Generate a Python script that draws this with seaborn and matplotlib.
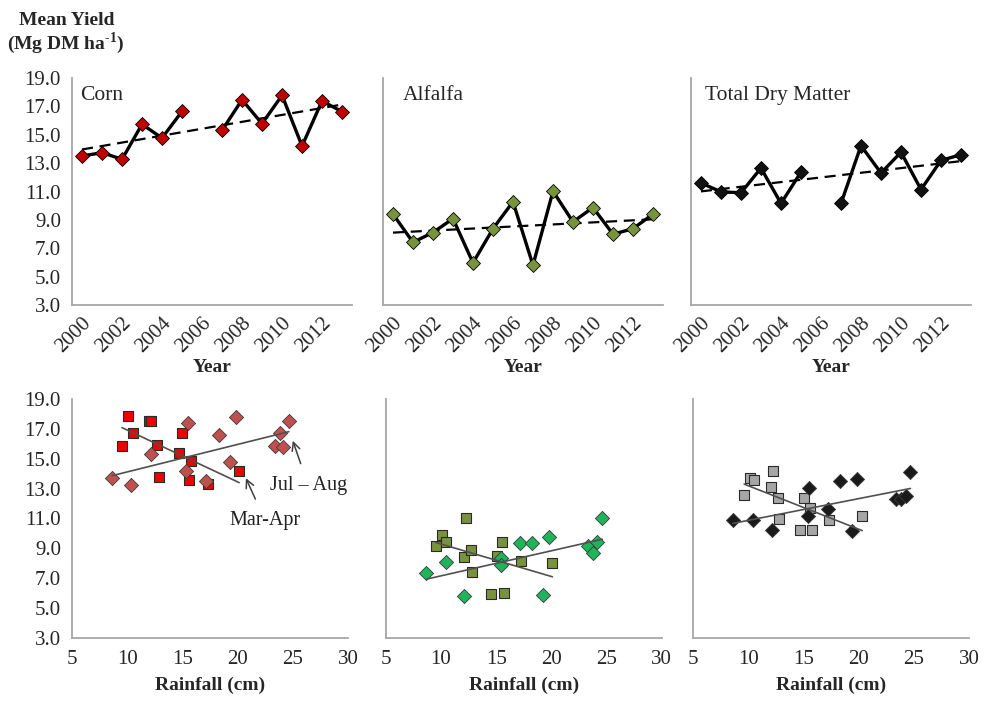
import numpy as np
import pandas as pd
import matplotlib
matplotlib.use("Agg")
import matplotlib.pyplot as plt
import seaborn as sns

# 年度产量数据 (Mg DM/ha), 2006 年玉米缺测
years = list(range(2000, 2014))
corn = [13.5, 13.74, 13.27, 15.74, 14.77, 16.65, np.nan, 15.31, 17.47, 15.78, 17.78, 14.21, 17.38, 16.63]
alfalfa = [9.41, 7.42, 8.11, 9.09, 5.97, 8.38, 10.28, 5.81, 11.02, 8.86, 9.87, 7.99, 8.38, 9.41]
tdm = [11.6, 10.98, 10.91, 12.65, 10.16, 12.37, np.nan, 10.16, 14.23, 12.30, 13.77, 11.14, 13.19, 13.6]

# 降雨量 vs 产量: Mar-Apr (方块) 和 Jul-Aug (菱形)
corn_ma_rain = [10.07, 9.53, 10.53, 12.0, 12.2, 12.7, 12.85, 14.97, 14.67, 15.8, 15.6, 17.33, 20.14]
corn_ma_yield = [17.84, 15.83, 16.72, 17.5, 17.55, 15.9, 13.78, 16.72, 15.38, 14.87, 13.55, 13.31, 14.2]
corn_ja_rain = [8.66, 10.38, 12.19, 15.51, 15.36, 17.17, 18.29, 19.29, 19.83, 23.37, 24.12, 23.82, 24.64]
corn_ja_yield = [13.7, 13.27, 15.3, 17.4, 14.2, 13.5, 16.61, 14.78, 17.77, 15.83, 15.8, 16.72, 17.5]

alf_ma_rain = [9.56, 10.1, 10.44, 12.26, 12.08, 12.75, 12.84, 14.57, 15.05, 15.51, 15.72, 17.27, 20.1]
alf_ma_yield = [9.17, 9.91, 9.45, 11.03, 8.41, 8.9, 7.44, 5.94, 8.46, 9.45, 5.98, 8.14, 8.0]
alf_ja_rain = [8.68, 10.44, 12.08, 15.42, 15.42, 17.18, 18.21, 19.79, 19.22, 23.32, 24.14, 23.78, 24.62]
alf_ja_yield = [7.36, 8.07, 5.83, 8.36, 7.91, 9.36, 9.36, 9.76, 5.87, 9.19, 9.41, 8.72, 11.01]

tdm_ma_rain = [9.63, 10.16, 10.51, 12.28, 12.08, 12.72, 12.81, 14.73, 15.02, 15.61, 15.82, 17.29, 20.33]
tdm_ma_yield = [12.59, 13.72, 13.59, 14.21, 13.1, 12.39, 10.98, 10.25, 12.39, 11.72, 10.2, 10.92, 11.18]
tdm_ja_rain = [8.6, 10.4, 12.16, 15.47, 15.41, 17.23, 18.33, 19.83, 19.39, 23.34, 23.87, 24.31, 24.69]
tdm_ja_yield = [10.92, 10.88, 10.2, 13.05, 11.16, 11.61, 13.54, 13.65, 10.13, 12.27, 12.27, 12.5, 14.14]

sns.set_style("white")
plt.rcParams["font.family"] = ["Liberation Serif", "DejaVu Serif"]
plt.rcParams["mathtext.fontset"] = "custom"
plt.rcParams["mathtext.rm"] = "Liberation Serif"
plt.rcParams["mathtext.bf"] = "Liberation Serif:bold"

grey = "#A6A6A6"
fig = plt.figure(figsize=(9.85, 7.01), dpi=100)

top_left = [0.0731, 0.3888, 0.7015]
bot_left = [0.0731, 0.3916, 0.7036]
top_axes = [fig.add_axes([l, 0.5649, 0.2843, 0.3238]) for l in top_left]
bot_axes = [fig.add_axes([l, 0.0899, 0.2802, 0.3410]) for l in bot_left]


def style_axis(ax, show_y):
    for s in ["top", "right"]:
        ax.spines[s].set_visible(False)
    for s in ["left", "bottom"]:
        ax.spines[s].set_color(grey)
        ax.spines[s].set_linewidth(1.3)
    ax.set_ylim(3, 19)
    ax.set_yticks(np.arange(3, 20, 2))
    ax.set_yticklabels([f"{v:.1f}" for v in np.arange(3, 20, 2)])
    ax.tick_params(axis="y", direction="out", length=5, width=1.3, color=grey,
                   labelsize=15, labelleft=show_y, pad=3)
    ax.set_ylabel("")


# 上排: 年份趋势
top_data = [(corn, "Corn", "#C00000", 0.03), (alfalfa, "Alfalfa", "#77933C", 0.07),
            (tdm, "Total Dry Matter", "#111111", 0.05)]
for i, (vals, name, fc, tx) in enumerate(top_data):
    ax = top_axes[i]
    df = pd.DataFrame({"pos": np.arange(len(years)) + 0.5, "val": vals})
    df["seg"] = df["val"].isna().cumsum()
    clean = df.dropna()
    sns.regplot(data=clean, x="pos", y="val", scatter=False, ci=None, ax=ax,
                line_kws=dict(color="black", lw=1.6, ls=(0, (5, 3))))
    sns.lineplot(data=clean, x="pos", y="val", units="seg", estimator=None, ax=ax,
                 color="black", lw=2.4, marker="D", markersize=7.5,
                 markerfacecolor=fc, markeredgecolor="black", markeredgewidth=0.6)
    style_axis(ax, i == 0)
    ax.set_xlim(0, 14)
    ax.set_xticks(np.arange(0, 15, 2))
    ax.set_xticklabels([])
    ax.tick_params(axis="x", which="major", direction="out", length=5, width=1.3, color=grey)
    ax.set_xticks(np.arange(0, 13, 2) + 0.5, minor=True)
    ax.set_xticklabels([str(y) for y in years[::2]], minor=True, rotation=45,
                       ha="right", rotation_mode="anchor", fontsize=15)
    ax.tick_params(axis="x", which="minor", length=0, pad=6)
    ax.set_xlabel("Year", fontsize=14, fontweight="bold")
    ax.xaxis.set_label_coords(0.5, -0.24)
    ax.text(tx, 0.925, name, transform=ax.transAxes, fontsize=15.5, va="center", ha="left")

# 下排: 降雨量散点
bot_data = [
    (corn_ma_rain, corn_ma_yield, corn_ja_rain, corn_ja_yield, "#EE0000", "#C0504D"),
    (alf_ma_rain, alf_ma_yield, alf_ja_rain, alf_ja_yield, "#77933C", "#1DB45A"),
    (tdm_ma_rain, tdm_ma_yield, tdm_ja_rain, tdm_ja_yield, "#A6A6A6", "#1A1A1A"),
]
for i, (mr, my, jr, jy, c_sq, c_dm) in enumerate(bot_data):
    ax = bot_axes[i]
    sns.scatterplot(x=mr, y=my, marker="s", s=62, color=c_sq, edgecolor="#2a2a2a",
                    linewidth=0.8, ax=ax, zorder=3)
    sns.scatterplot(x=jr, y=jy, marker="D", s=52, color=c_dm, edgecolor="#3a3a3a",
                    linewidth=0.6, ax=ax, zorder=3)
    for xr, yv in [(mr, my), (jr, jy)]:
        sns.regplot(x=xr, y=yv, scatter=False, ci=None, ax=ax,
                    line_kws=dict(color="#505050", lw=1.2, zorder=4))
    style_axis(ax, i == 0)
    ax.set_xlim(5, 30)
    ax.set_xticks(np.arange(5, 31, 5))
    ax.tick_params(axis="x", direction="out", length=5, width=1.3, color=grey,
                   labelsize=15, pad=4)
    ax.set_xlabel("Rainfall (cm)", fontsize=14, fontweight="bold")
    ax.xaxis.set_label_coords(0.5, -0.16)

ax = bot_axes[0]
ax.annotate("Jul \u2013 Aug", xy=(25.0, 16.2), xytext=(26.4, 13.2), fontsize=14.5,
            ha="center", va="center", color="#222222",
            arrowprops=dict(arrowstyle="->", color="#404040", lw=1.1, shrinkA=7, shrinkB=0))
ax.annotate("Mar-Apr", xy=(20.75, 13.7), xytext=(22.5, 10.85), fontsize=14.5,
            ha="center", va="center", color="#222222",
            arrowprops=dict(arrowstyle="->", color="#404040", lw=1.1, shrinkA=7, shrinkB=0))

fig.text(0.068, 0.971, "Mean Yield", fontsize=14, fontweight="bold", ha="center", va="center")
fig.text(0.067, 0.938, "(Mg DM ha$^{\\mathbf{\u2010}\\mathbf{1}}$)", fontsize=14, fontweight="bold",
         ha="center", va="center")

fig.savefig("out.png", dpi=100)
